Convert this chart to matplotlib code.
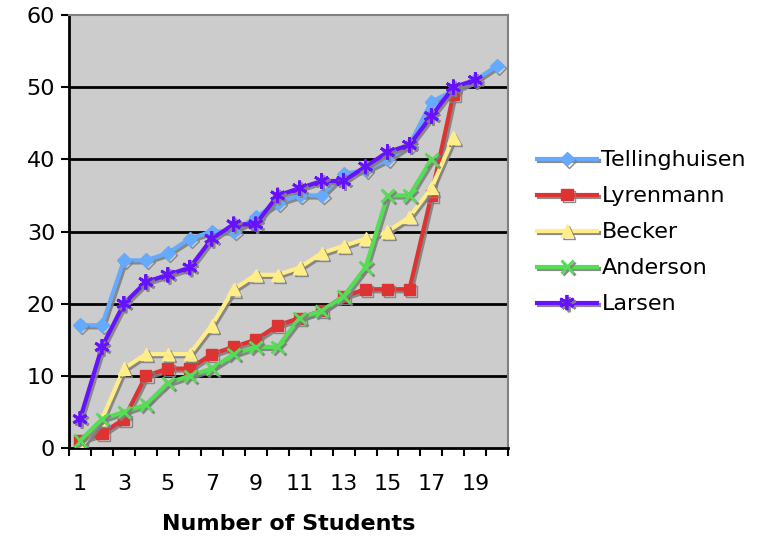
import matplotlib
matplotlib.use("Agg")
from matplotlib import pyplot as plt
from matplotlib import patheffects as pe

plt.rcParams['font.family'] = ['DejaVu Sans']

students = list(range(1, 21))

tellinghuisen = [17, 17, 26, 26, 27, 29, 30, 30, 32, 34, 35, 35, 38, 38.5, 40, 42, 48, 49.5, 51, 53]
lyrenmann = [1, 2, 4, 10, 11, 11, 13, 14, 15, 17, 18, 19, 21, 22, 22, 22, 35, 49]
becker = [0, 4, 11, 13, 13, 13, 17, 22, 24, 24, 25, 27, 28, 29, 30, 32, 36, 43]
anderson = [1, 4, 5, 6, 9, 10, 11, 13, 14, 14, 18, 19, 21, 25, 35, 35, 40]
larsen = [4, 14, 20, 23, 24, 25, 29, 31, 31, 35, 36, 37, 37, 39, 41, 42, 46, 50, 51]

series = [
    ("Tellinghuisen", tellinghuisen, "#66AAFF", "D", 7, 1),
    ("Lyrenmann", lyrenmann, "#DD3333", "s", 8, 1),
    ("Becker", becker, "#FFEE88", "^", 9, 1),
    ("Anderson", anderson, "#55DD55", "x", 9, 2),
    ("Larsen", larsen, "#6611FF", (6, 2, 0), 11, 2),
]

fig = plt.figure(figsize=(7.72, 5.39), dpi=100)
ax = fig.add_axes([0.0894, 0.169, 0.569, 0.803])
ax.set_facecolor("#CCCCCC")

shadow = [pe.SimpleLineShadow(offset=(1.5, -1.5), shadow_color="#808080", alpha=0.9), pe.Normal()]

for name, vals, color, marker, ms, mew in series:
    ax.plot(students[:len(vals)], vals, color=color, lw=3, marker=marker, ms=ms,
            mew=mew, mec=color, mfc=color, label=name, path_effects=shadow, zorder=3)

# grid
ax.set_ylim(0, 60)
ax.set_xlim(0.5, 20.5)
ax.set_yticks(range(0, 61, 10))
for v in range(10, 60, 10):
    ax.axhline(v, color="black", lw=2, zorder=1)

ax.set_xticks(range(1, 21, 2))
ax.set_xticks([i + 0.5 for i in range(0, 21)], minor=True)
ax.tick_params(axis="x", which="major", length=0, labelsize=16, pad=19)
ax.tick_params(axis="x", which="minor", length=6, width=1.5, direction="out")
ax.tick_params(axis="y", length=6, width=1.5, labelsize=16, pad=4)

for s in ["left", "bottom"]:
    ax.spines[s].set_linewidth(2)
    ax.spines[s].set_color("black")
for s in ["top", "right"]:
    ax.spines[s].set_linewidth(1.5)
    ax.spines[s].set_color("#808080")

ax.set_xlabel("Number of Students", fontsize=16, fontweight="bold", labelpad=14)

ax.legend(loc="center left", bbox_to_anchor=(1.04, 0.498), frameon=False, fontsize=16,
          handlelength=2.7, handletextpad=0.2, labelspacing=0.72, borderpad=0)

fig.savefig("out.png", dpi=100)
